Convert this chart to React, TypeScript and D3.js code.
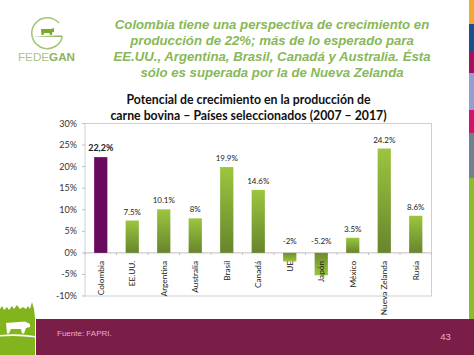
import React from "react";
import * as d3 from "d3";

const categories = ["Colombia","EE.UU.","Argentina","Australia","Brasil","Canadá","UE","Japón","México","Nueva Zelanda","Rusia"];
const values = [22.2,7.5,10.1,8,19.9,14.6,-2,-5.2,3.5,24.2,8.6];
const valueLabels = ["22,2%","7.5%","10.1%","8%","19.9%","14.6%","-2%","-5.2%","3.5%","24.2%","8.6%"];
const yTicks = [-10,-5,0,5,10,15,20,25,30];
const headingLines = [
  "Colombia tiene una perspectiva de crecimiento en",
  "producción de 22%; más de lo esperado para",
  "EE.UU., Argentina, Brasil, Canadá y Australia. Ésta",
  "sólo  es superada por la de Nueva Zelanda",
];
const chartTitleLines = ["Potencial de crecimiento en la producción de","carne bovina – Países seleccionados (2007 – 2017)"];
const stripeStops = [0,24,52,73,110,133,178,319];
const stripeColors = ["#f2a92e","#1b4e8c","#a50f5c","#929fd0","#d4116b","#6f8090","#8cbc2c"];

const CHART = "Lato, 'Open Sans', sans-serif";
const ARIAL = "'Liberation Sans', Arial, sans-serif";

export default function App() {
  const y = d3.scaleLinear().domain([-10,30]).range([296,123.5]);
  const x = d3.scaleBand<string>().domain(categories).range([85,431.5]).paddingInner(0.58).paddingOuter(0.29);
  const step = x.step();
  const y0 = y(0);
  return (
    <svg width={474} height={355} style={{position:"fixed",left:0,top:0,background:"#fff"}} xmlns="http://www.w3.org/2000/svg">
      <defs>
        <linearGradient id="g" x1="0" y1="0" x2="0" y2="1">
          <stop offset="0" stopColor="#9bc63f"/><stop offset="1" stopColor="#67852c"/>
        </linearGradient>
        <linearGradient id="gn" x1="0" y1="0" x2="0" y2="1">
          <stop offset="0" stopColor="#6e8c2e"/><stop offset="1" stopColor="#9ac43c"/>
        </linearGradient>
      </defs>
      <rect width={474} height={355} fill="#fff"/>

      {/* logo */}
      <path d="M 59 23 A 15.5 15.5 0 1 0 62 38 L 62 36" fill="none" stroke="#a3c474" strokeWidth={1.5}/>
      <path d="M 33 37 Q 47 35 62 35.5 L 62 37 Q 47 36.5 33 37 Z" fill="#8fb35e"/>
      <path d="M 41 29 L 51 29 L 54 28 L 54 32 L 52 32.5 L 52 35 L 50 35 L 49.5 33 L 44 33 L 43.5 35 L 41.5 35 Z" fill="#7ca832"/>
      <text x={18} y={61} fontFamily={ARIAL} fontSize={11.5} fill="#a9c58a" textLength={57} lengthAdjust="spacingAndGlyphs">FEDE<tspan fontWeight={700} fill="#8fb35e">GAN</tspan></text>

      {/* heading */}
      {headingLines.map((t,i)=>(
        <text key={i} x={272} y={28.5+i*16} textAnchor="middle" fontFamily={ARIAL} fontSize={13.2} fontWeight={700} fontStyle="italic" fill="#88b858">{t}</text>
      ))}

      {/* chart title */}
      {chartTitleLines.map((t,i)=>(
        <text key={i} x={248.5} y={103.5+i*16} textAnchor="middle" fontFamily={CHART} fontSize={12.3} fontWeight={700} fill="#111">{t}</text>
      ))}

      {/* axes and frame */}
      <rect x={85} y={y(30)} width={346.5} height={y(-10)-y(30)} fill="none" stroke="#cfcfcf" strokeWidth={1}/>
      <line x1={85} x2={431.5} y1={y0} y2={y0} stroke="#bdbdbd"/>
      {yTicks.map(t=>(
        <g key={t}>
          <line x1={82} x2={85} y1={y(t)} y2={y(t)} stroke="#bdbdbd"/>
          <text x={77} y={y(t)+3} textAnchor="end" fontFamily={CHART} fontSize={9} fill="#333">{t}%</text>
        </g>
      ))}
      {d3.range(categories.length+1).map(i=>(
        <line key={i} x1={85+i*step} x2={85+i*step} y1={y0} y2={y0+2} stroke="#bdbdbd"/>
      ))}

      {/* bars */}
      {categories.map((c,i)=>{
        const v = values[i];
        const top = y(Math.max(v,0));
        const h = Math.abs(y(v)-y0);
        const fill = i===0 ? "#690a5c" : v<0 ? "url(#gn)" : "url(#g)";
        return <rect key={c} x={x(c)} y={top} width={x.bandwidth()} height={h} fill={fill}/>;
      })}

      {/* value labels */}
      {categories.map((c,i)=>{
        const v = values[i];
        const cx = (x(c) as number)+x.bandwidth()/2;
        const ly = v<0 ? y0-8.5 : y(v)-6;
        return <text key={c} x={cx} y={ly} textAnchor="middle" fontFamily={CHART} fontSize={i===0?9:8} fontWeight={i===0?700:400} fill="#222">{valueLabels[i]}</text>;
      })}

      {/* category labels */}
      {categories.map(c=>{
        const cx = (x(c) as number)+x.bandwidth()/2;
        return <text key={c} transform={`translate(${cx+3},${y0+8}) rotate(-90)`} textAnchor="end" fontFamily={CHART} fontSize={8.3} fill="#222">{c}</text>;
      })}

      {/* right stripe */}
      {stripeColors.map((col,i)=>(
        <rect key={col} x={469} y={stripeStops[i]} width={5} height={stripeStops[i+1]-stripeStops[i]} fill={col}/>
      ))}

      {/* footer */}
      <rect x={36} y={319} width={438} height={36} fill="#7a1e48"/>
      <text x={57} y={336} fontFamily={ARIAL} fontSize={8} fill="#f2a9cf">Fuente: FAPRI.</text>
      <text x={445.5} y={339.5} textAnchor="middle" fontFamily={ARIAL} fontSize={9.5} fill="#f2a9cf">43</text>

      {/* grass and cow */}
      <path d="M0 355 L0 309 L2 306 L4 310 L7 307 L9 310 L12 306 L14 309 L17 305 L20 309 L23 307 L26 309 L28 306 L30 309 L32 302 L34 309 L35 318 L35 355 Z" fill="#82b41e"/>
      <path d="M0 335 Q18 333 35 336 L35 337.5 Q18 335 0 336.5 Z" fill="#fff"/>
      <path d="M6 323 L25 321.5 L30 324 L30 327 L26 328 L24 333.5 L22 333.5 L21 329 L11 329 L9 333.5 L7 333.5 Z" fill="#fff"/>
    </svg>
  );
}
